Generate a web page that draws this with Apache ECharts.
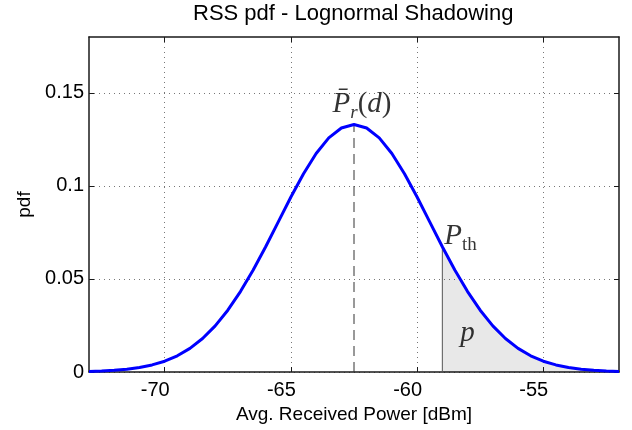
<!DOCTYPE html>
<html><head><meta charset="utf-8">
<script src="https://cdn.jsdelivr.net/npm/echarts@6/dist/echarts.min.js"></script>
<style>html,body{margin:0;padding:0;background:#fff}#c{width:632px;height:430px}</style>
</head><body><div id="c"></div>
<script>
// ---- data ----
const powerDbm = [-73,-72.5,-72,-71.5,-71,-70.5,-70,-69.5,-69,-68.5,-68,-67.5,-67,-66.5,-66,-65.5,-65,-64.5,-64,-63.5,-63,-62.5,
  -62,-61.5,-61,-60.5,-60,-59.5,-59,-58.5,-58,-57.5,-57,-56.5,-56,-55.5,-55,-54.5,-54,-53.5,-53,-52.5,-52];
const pdfValues = [0.0003,0.0005,0.0009,0.0015,0.0024,0.0038,0.0058,0.0087,0.0127,0.0180,0.0248,0.0332,0.0432,0.0547,0.0673,0.0807,0.0940,0.1065,0.1174,0.1258,0.1311,0.1330,
  0.1311,0.1258,0.1174,0.1065,0.0940,0.0807,0.0673,0.0547,0.0432,0.0332,0.0248,0.0180,0.0127,0.0087,0.0058,0.0038,0.0024,0.0015,0.0009,0.0005,0.0003];
const xTicks = [-70,-65,-60,-55];
const yTicks = [0,0.05,0.1,0.15];
const xRange = [-73,-52];
const yRange = [0,0.18];
const meanPower = -62.5;
const thresholdPower = -59;
const titleText = 'RSS pdf - Lognormal Shadowing';
const xName = 'Avg. Received Power [dBm]';
const yName = 'pdf';
const meanLabelPos = [-62.5, 0.1440];
const thLabelPos = [-59, 0.0729];
const pLabelPos = [-58, 0.021];

// ---- build ----
const curve = powerDbm.map((x, i) => [x, pdfValues[i]]);
const shade = curve.filter(p => p[0] >= thresholdPower);
const peak = Math.max(...pdfValues);
const thVal = pdfValues[powerDbm.indexOf(thresholdPower)];

const SANS = '"Liberation Sans", Arial, sans-serif';
const SERIF = '"Liberation Serif", "Times New Roman", serif';
const AX = '#1a1a1a';
const gridLine = { show: true, lineStyle: { color: '#777', width: 1, type: [1, 4] } };

const chart = echarts.init(document.getElementById('c'), null, { renderer: 'canvas' });
chart.setOption({
  animation: false,
  backgroundColor: '#fff',
  title: {
    text: titleText, left: 193, top: 3, padding: 0,
    textStyle: { fontFamily: SANS, fontSize: 22, fontWeight: 'normal', color: '#000' }
  },
  grid: { left: 89, right: 13, top: 37, bottom: 58, containLabel: false },
  xAxis: [
    {
      type: 'value', min: xRange[0], max: xRange[1], position: 'bottom',
      axisLine: { show: true, onZero: false, lineStyle: { color: AX, width: 1.5 } },
      axisTick: { show: true, inside: true, length: 5, customValues: xTicks, lineStyle: { color: AX, width: 1 } },
      axisLabel: { customValues: xTicks, fontFamily: SANS, fontSize: 20, color: '#000', margin: 8, padding: [0, 19, 0, 0] },
      splitLine: gridLine,
      name: xName, nameLocation: 'middle', nameGap: 30,
      nameTextStyle: { fontFamily: SANS, fontSize: 19, color: '#000' }
    },
    {
      type: 'value', min: xRange[0], max: xRange[1], position: 'top',
      axisLine: { show: true, onZero: false, lineStyle: { color: AX, width: 1.5 } },
      axisTick: { show: true, inside: true, length: 5, customValues: xTicks, lineStyle: { color: AX, width: 1 } },
      axisLabel: { show: false }, splitLine: { show: false }
    }
  ],
  yAxis: [
    {
      type: 'value', min: yRange[0], max: yRange[1], position: 'left',
      axisLine: { show: true, onZero: false, lineStyle: { color: AX, width: 1.5 } },
      axisTick: { show: true, inside: true, length: 5, customValues: yTicks, lineStyle: { color: AX, width: 1 } },
      axisLabel: { customValues: yTicks, fontFamily: SANS, fontSize: 20, color: '#000', margin: 5 },
      splitLine: gridLine,
      name: yName, nameLocation: 'middle', nameGap: 51,
      nameTextStyle: { fontFamily: SANS, fontSize: 19, color: '#000' }
    },
    {
      type: 'value', min: yRange[0], max: yRange[1], position: 'right',
      axisLine: { show: true, onZero: false, lineStyle: { color: AX, width: 1.5 } },
      axisTick: { show: true, inside: true, length: 5, customValues: yTicks, lineStyle: { color: AX, width: 1 } },
      axisLabel: { show: false }, splitLine: { show: false }
    }
  ],
  series: [
    {
      type: 'line', data: shade, symbol: 'none', silent: true, z: 1,
      lineStyle: { width: 0 }, areaStyle: { color: 'rgba(0,0,0,0.09)', opacity: 1 }
    },
    {
      type: 'line', data: [[thresholdPower, 0], [thresholdPower, thVal]], symbol: 'none', silent: true, z: 2,
      lineStyle: { color: '#555', width: 1 }
    },
    {
      type: 'line', data: [[meanPower, 0], [meanPower, peak]], symbol: 'none', silent: true, z: 2,
      lineStyle: { color: '#333', width: 1, type: [10, 6] }
    },
    {
      type: 'line', data: curve, symbol: 'none', silent: true, z: 3,
      lineStyle: { color: '#0000ff', width: 3 }
    },
    {
      type: 'scatter', symbolSize: 0, silent: true, z: 4,
      data: [
        { value: meanLabelPos, label: { show: true, position: 'inside', offset: [8, 0],
            formatter: '{it|P\u0304}{sub|r}{rm|(}{it|d}{rm|)}' } },
        { value: thLabelPos, label: { show: true, position: 'right', distance: 2,
            formatter: '{it|P}{th|th}' } },
        { value: pLabelPos, label: { show: true, position: 'inside',
            formatter: '{it|p}' } }
      ],
      label: {
        color: '#000',
        rich: {
          it: { fontFamily: SERIF, fontStyle: 'italic', fontSize: 29, lineHeight: 36, color: '#000' },
          rm: { fontFamily: SERIF, fontSize: 29, lineHeight: 36, color: '#000' },
          sub: { fontFamily: SERIF, fontStyle: 'italic', fontSize: 19, lineHeight: 14, verticalAlign: 'bottom', color: '#000' },
          th: { fontFamily: SERIF, fontSize: 19, lineHeight: 25, verticalAlign: 'bottom', color: '#000' }
        }
      }
    }
  ]
});
</script></body></html>
